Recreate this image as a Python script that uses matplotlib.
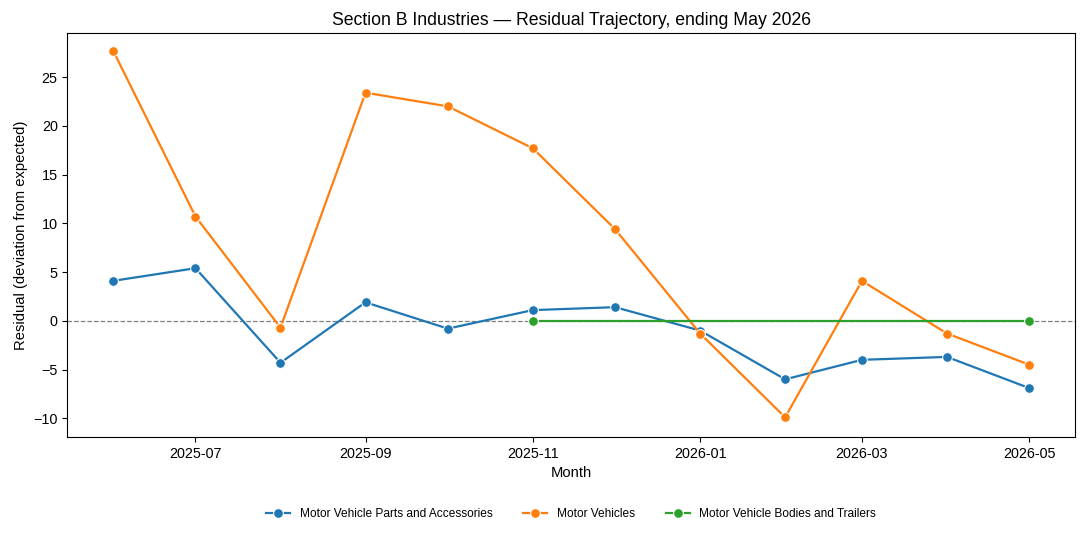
import numpy as np
import pandas as pd
import matplotlib
matplotlib.use("Agg")
import matplotlib.pyplot as plt
import seaborn as sns

# data
months = pd.date_range("2025-06-01", "2026-05-01", freq="MS")
parts = [4.1, 5.4, -4.3, 1.9, -0.8, 1.1, 1.4, -1.0, -6.0, -4.0, -3.7, -6.9]
vehicles = [27.7, 10.7, -0.7, 23.4, 22.0, 17.7, 9.4, -1.3, -9.9, 4.1, -1.3, -4.5]
bodies_months = pd.to_datetime(["2025-11-01", "2026-05-01"])
bodies = [0.0, 0.0]

series_names = ["Motor Vehicle Parts and Accessories", "Motor Vehicles",
                "Motor Vehicle Bodies and Trailers"]

plt.rcParams["font.family"] = ["Liberation Sans", "DejaVu Sans"]

df = pd.concat([
    pd.DataFrame({"Month": months, "Residual": parts, "Series": series_names[0]}),
    pd.DataFrame({"Month": months, "Residual": vehicles, "Series": series_names[1]}),
    pd.DataFrame({"Month": bodies_months, "Residual": bodies, "Series": series_names[2]}),
])

fig = plt.figure(figsize=(10.87, 5.36), dpi=100)
ax = fig.add_axes([0.062, 0.185, 0.927, 0.753])

ax.axhline(0, color="gray", linestyle="--", linewidth=0.9, zorder=1)
sns.lineplot(data=df, x="Month", y="Residual", hue="Series", marker="o",
             markersize=7, linewidth=1.6, palette="tab10", ax=ax)

ax.set_ylim(-11.9, 29.5)
ax.set_yticks([-10, -5, 0, 5, 10, 15, 20, 25])
ax.set_xticks(pd.to_datetime(["2025-07-01", "2025-09-01", "2025-11-01",
                              "2026-01-01", "2026-03-01", "2026-05-01"]))
ax.set_xticklabels(["2025-07", "2025-09", "2025-11", "2026-01", "2026-03", "2026-05"])
ax.tick_params(labelsize=10.4)

ax.set_title("Section B Industries \u2014 Residual Trajectory, ending May 2026", fontsize=12.7)
ax.set_xlabel("Month", fontsize=10.6)
ax.set_ylabel("Residual (deviation from expected)", fontsize=10.6)

ax.legend(loc="upper center", bbox_to_anchor=(0.5, -0.15), ncol=3, frameon=False,
          fontsize=8.6, columnspacing=2.6, title=None)

fig.savefig("out.png", dpi=100)
